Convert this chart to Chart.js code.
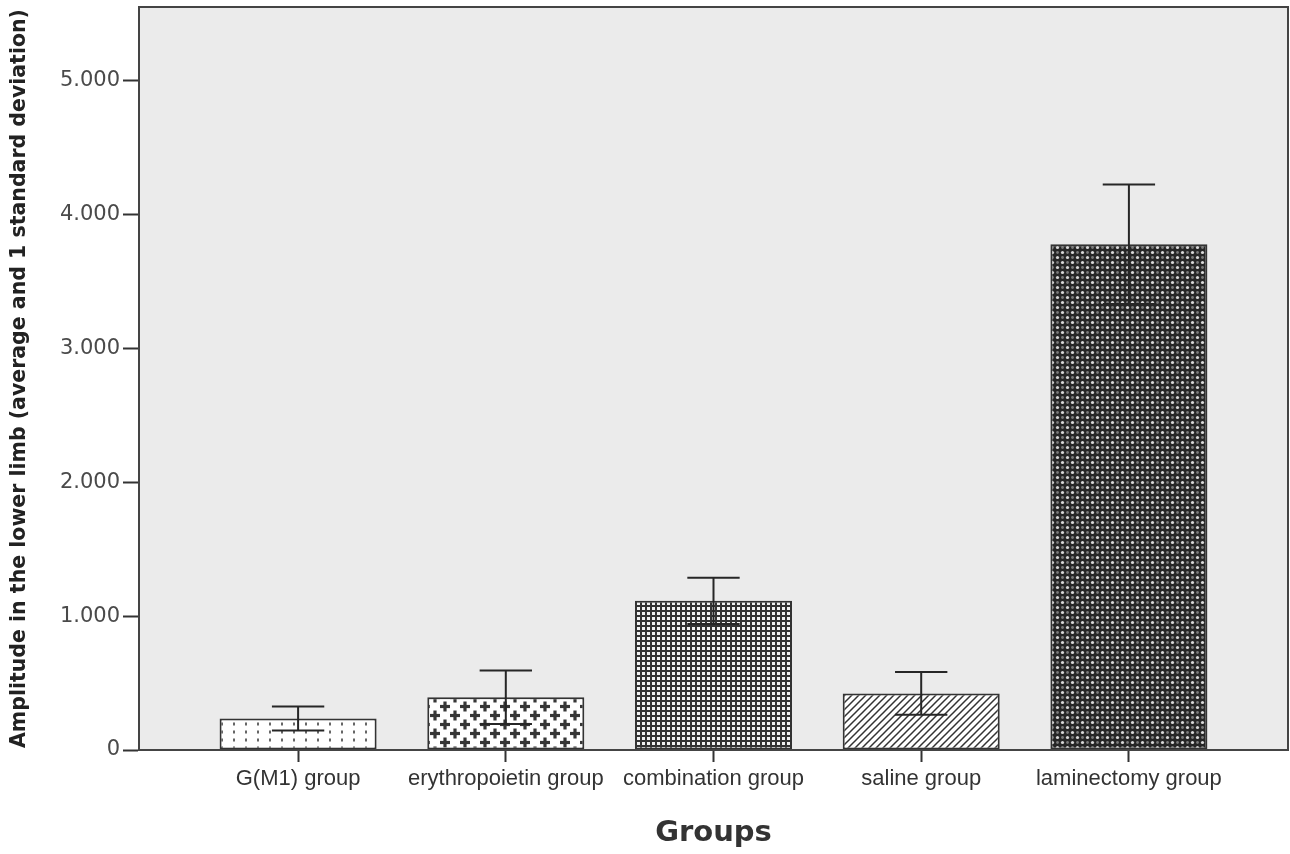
<!DOCTYPE html>
<html>
<head>
<meta charset="utf-8">
<script src="https://cdn.jsdelivr.net/npm/chart.js@4.4.1/dist/chart.umd.min.js"></script>
<style>
html,body{margin:0;padding:0;background:#fff;}
#wrap{width:1290px;height:854px;position:relative;}
</style>
</head>
<body>
<div id="wrap"><canvas id="c"></canvas></div>
<script>
// ---- data ----
const categories = ["G(M1) group", "erythropoietin group", "combination group", "saline group", "laminectomy group"];
const means = [0.235, 0.394, 1.115, 0.423, 3.78];
const sds = [0.09, 0.20, 0.173, 0.16, 0.447];
const yTicks = [0, 1, 2, 3, 4, 5];
const yTitle = "Amplitude in the lower limb (average and 1 standard deviation)";
const xTitle = "Groups";

// ---- patterns ----
function makeTile(w, h, draw) {
  const c = document.createElement('canvas');
  c.width = w; c.height = h;
  const g = c.getContext('2d');
  draw(g, w, h);
  return c;
}
function patterns(ctx) {
  const dots = makeTile(12, 8, (g, w, h) => {
    g.fillStyle = '#fff'; g.fillRect(0, 0, w, h);
    g.fillStyle = '#666';
    g.fillRect(5, 2.5, 2, 3);
  });
  const plus = makeTile(20, 18, (g, w, h) => {
    g.fillStyle = '#fff'; g.fillRect(0, 0, w, h);
    g.fillStyle = '#363636';
    const p = (x, y) => { g.fillRect(x - 5, y - 1.6, 10, 3.2); g.fillRect(x - 1.6, y - 5, 3.2, 10); };
    p(5, 4.5); p(15, 13.5);
    p(-5, 13.5); p(25, 13.5); p(5, 22.5); p(15, -4.5);
  });
  const grid = makeTile(5, 5, (g, w, h) => {
    g.fillStyle = '#f2f2f2'; g.fillRect(0, 0, w, h);
    g.fillStyle = '#333';
    g.fillRect(0, 0, 2, 5); g.fillRect(0, 0, 5, 2);
  });
  const hatch = makeTile(7, 7, (g, w, h) => {
    g.fillStyle = '#fff'; g.fillRect(0, 0, w, h);
    g.strokeStyle = '#333'; g.lineWidth = 1.5;
    g.beginPath();
    g.moveTo(-2, 9); g.lineTo(9, -2);
    g.moveTo(-2, 2); g.lineTo(2, -2);
    g.moveTo(5, 9); g.lineTo(9, 5);
    g.stroke();
  });
  const dense = makeTile(10, 10, (g, w, h) => {
    g.fillStyle = '#262626'; g.fillRect(0, 0, w, h);
    g.fillStyle = '#d8d8d8';
    g.beginPath(); g.arc(2.5, 2.5, 1.6, 0, Math.PI * 2); g.fill();
    g.beginPath(); g.arc(7.5, 7.5, 1.6, 0, Math.PI * 2); g.fill();
    g.fillStyle = '#7a7a7a';
    g.beginPath(); g.arc(7.5, 2.5, 1.4, 0, Math.PI * 2); g.fill();
    g.beginPath(); g.arc(2.5, 7.5, 1.4, 0, Math.PI * 2); g.fill();
  });
  return [dots, plus, grid, hatch, dense].map(t => ctx.createPattern(t, 'repeat'));
}

const canvas = document.getElementById('c');
const ctx = canvas.getContext('2d');
const fills = patterns(ctx);

const plotBg = {
  id: 'plotBg',
  beforeDraw(chart) {
    const a = chart.chartArea, g = chart.ctx;
    g.save(); g.fillStyle = '#ebebeb';
    g.fillRect(a.left, a.top, a.right - a.left, a.bottom - a.top);
    g.restore();
  },
  afterDraw(chart) {
    const a = chart.chartArea, g = chart.ctx;
    g.save(); g.strokeStyle = '#444'; g.lineWidth = 2;
    g.strokeRect(a.left, a.top, a.right - a.left, a.bottom - a.top);
    g.restore();
  }
};

const errorBars = {
  id: 'errorBars',
  afterDatasetsDraw(chart) {
    const meta = chart.getDatasetMeta(0);
    const ys = chart.scales.y, g = chart.ctx;
    g.save();
    g.strokeStyle = '#262626'; g.lineWidth = 2;
    meta.data.forEach((bar, i) => {
      const hi = ys.getPixelForValue(means[i] + sds[i]);
      const lo = ys.getPixelForValue(means[i] - sds[i]);
      const half = bar.width / 6;
      g.beginPath();
      g.moveTo(bar.x, lo); g.lineTo(bar.x, hi);
      g.moveTo(bar.x - half, hi); g.lineTo(bar.x + half, hi);
      g.moveTo(bar.x - half, lo); g.lineTo(bar.x + half, lo);
      g.stroke();
    });
    g.restore();
  }
};

new Chart(ctx, {
  type: 'bar',
  data: {
    datasets: [{
      data: means.map((v, i) => ({ x: i, y: v })),
      backgroundColor: fills,
      borderColor: '#333',
      borderWidth: 2,
      borderSkipped: false,
      categoryPercentage: 1,
      barPercentage: 0.756
    }]
  },
  options: {
    responsive: true,
    maintainAspectRatio: false,
    animation: false,
    layout: { padding: { top: 7, right: 2, left: 0, bottom: 0 } },
    plugins: { legend: { display: false }, tooltip: { enabled: false } },
    scales: {
      x: {
        type: 'linear',
        min: -0.766,
        max: 4.766,
        offset: false,
        afterBuildTicks(scale) { scale.ticks = categories.map((c, i) => ({ value: i })); },
        afterFit(scale) { scale.height = 104; scale.paddingLeft = 0; scale.paddingRight = 0; },
        grid: { offset: false, drawOnChartArea: false, drawTicks: true, tickLength: 12, tickColor: '#333', tickWidth: 2 },
        border: { display: true, color: '#444', width: 2 },
        ticks: {
          autoSkip: false, maxRotation: 0, padding: 4,
          color: '#333',
          font: { family: 'Liberation Sans', size: 22 },
          callback: (v) => categories[v]
        },
        title: {
          display: true, text: xTitle, color: '#333',
          font: { family: 'DejaVu Sans', size: 29, weight: 'bold' },
          padding: { top: 0, bottom: 3 }
        }
      },
      y: {
        min: 0,
        max: 5.553,
        afterBuildTicks(scale) { scale.ticks = yTicks.map(v => ({ value: v })); },
        afterFit(scale) { scale.width = 139; scale.paddingTop = 0; scale.paddingBottom = 0; },
        grid: { drawOnChartArea: false, drawTicks: true, tickLength: 16, tickColor: '#333', tickWidth: 2 },
        border: { display: true, color: '#444', width: 2 },
        ticks: {
          padding: 3,
          color: '#4a4a4a',
          font: { family: 'DejaVu Sans', size: 21 },
          callback: (v) => v === 0 ? '0' : v.toFixed(3)
        },
        title: {
          display: true, text: yTitle, color: '#222',
          font: { family: 'DejaVu Sans', size: 20.5, weight: 'bold' },
          padding: { top: 7, bottom: 0 }
        }
      }
    }
  },
  plugins: [plotBg, errorBars]
});
</script>
</body>
</html>
